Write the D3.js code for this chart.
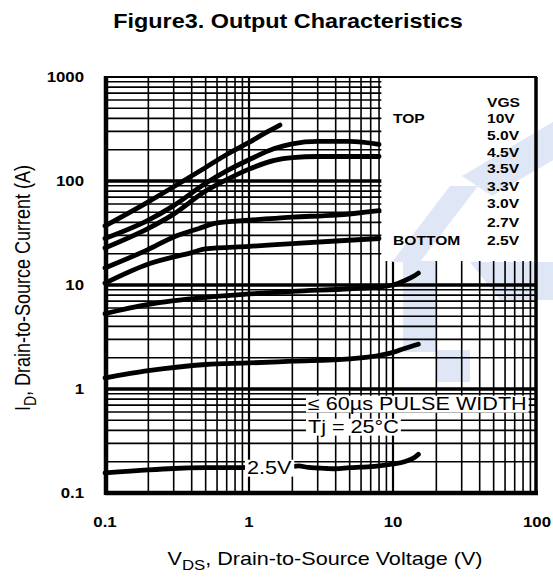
<!DOCTYPE html>
<html><head><meta charset="utf-8">
<script src="https://cdn.jsdelivr.net/npm/d3@7"></script>
<style>html,body{margin:0;padding:0;background:#fff;}svg{display:block;font-family:"Liberation Sans",Arial,sans-serif;}</style>
</head><body>
<svg id="c" width="553" height="578"></svg>
<script>
// ---- data ----
const vgsLabels = ["10V","5.0V","4.5V","3.5V","3.3V","3.0V","2.7V","2.5V"];
const xTicks = [0.1, 1, 10, 100];
const yTicks = [0.1, 1, 10, 100, 1000];
const xTickLabels = ["0.1","1","10","100"];
const yTickLabels = ["0.1","1","10","100","1000"];
const vds10  = [0.1,0.2,0.3,0.5,0.7,1,1.3,1.64];
const id10   = [37,63,88,135,180,235,290,345];
const vds50  = [0.1,0.2,0.3,0.5,0.7,1,1.5,2,3,5,8];
const id50   = [28,42,58,95,125,160,205,228,240,240,225];
const vds45  = [0.1,0.2,0.3,0.5,0.7,1,1.5,2,3,5,8];
const id45   = [22.7,35,48,80,103,130,158,168,172,172,172];
const vds35  = [0.1,0.2,0.3,0.45,0.6,1,2,4,8];
const id35   = [14.6,22,29,35,39.5,42,45,47,52];
const vds33  = [0.1,0.2,0.4,0.5,1,2,4,8];
const id33   = [10.4,15.9,20.5,22.2,23.5,25,26.5,28];
const vds30  = [0.1,0.2,0.5,1,2,5,8,10,12,14,15];
const id30   = [5.3,6.5,7.6,8.2,8.7,9.2,9.6,10,11,12.2,13];
const vds27  = [0.1,0.2,0.5,1,2,5,8,10,12,15];
const id27   = [1.28,1.5,1.72,1.78,1.85,1.95,2.1,2.25,2.45,2.7];
const vds25  = [0.1,0.2,0.3,0.5,1,1.9,2.2,2.6,3,3.5,4,5,6,7,8,10,12,14,15];
const id25   = [0.156,0.167,0.172,0.175,0.176,0.178,0.182,0.176,0.174,0.172,0.171,0.175,0.177,0.179,0.182,0.19,0.2,0.218,0.235];
const curveV = [vds10,vds50,vds45,vds35,vds33,vds30,vds27,vds25];
const curveI = [id10,id50,id45,id35,id33,id30,id27,id25];
const legendY = [123,140,157,173,191,208,227,245];

// ---- scales ----
const svg = d3.select("#c");
const x = d3.scaleLog().domain([0.1,100]).range([105,537]);
const y = d3.scaleLog().domain([0.1,1000]).range([493,77]);
const SX = 1.2;

// watermark (decorative logo)
const wmPolys = [
  [[462,176],[553,122],[553,160],[492,196]],
  [[392,262],[450,186],[478,186],[420,262]],
  [[403,240],[437,240],[437,352],[403,352]],
  [[437,350],[470,350],[470,382],[437,382]],
  [[470,262],[553,262],[553,300],[500,300]]
];
svg.append("g").attr("fill","#dfe6f6").selectAll("polygon").data(wmPolys).join("polygon").attr("points",d=>d.map(p=>p.join(",")).join(" "));

// grid
const g = svg.append("g");
const xMinor = [], yMinor = [];
for (let e=-1;e<2;e++) for (let k=1;k<10;k++) xMinor.push(k*Math.pow(10,e));
for (let e=-1;e<3;e++) for (let k=1;k<10;k++) yMinor.push(k*Math.pow(10,e));
const isDec = v => Math.abs(Math.log10(v)-Math.round(Math.log10(v)))<1e-9;
g.selectAll("line.vx").data(xMinor.filter(v=>v>0.1)).join("line")
  .attr("x1",d=>x(d)).attr("x2",d=>x(d)).attr("y1",y(1000)).attr("y2",y(0.1))
  .attr("stroke","#000").attr("stroke-width",d=>isDec(d)?2.2:1.6);
g.selectAll("line.hy").data(yMinor.filter(v=>v>0.1)).join("line")
  .attr("x1",x(0.1)).attr("x2",x(100)).attr("y1",d=>y(d)).attr("y2",d=>y(d))
  .attr("stroke","#000").attr("stroke-width",d=>isDec(d)?3.4:1.6);

// legend box (white)
svg.append("rect").attr("x",x(8.3)).attr("y",y(1000)+1).attr("width",x(100)-x(8.3)-2).attr("height",y(17)-y(1000)-1).attr("fill","#fff");
svg.append("g").attr("fill","#dfe6f6").selectAll("polygon").data(wmPolys.slice(0,2)).join("polygon").attr("points",d=>d.map(p=>p.join(",")).join(" "));

// frame
svg.append("line").attr("x1",x(0.1)).attr("x2",x(100)).attr("y1",y(1000)).attr("y2",y(1000)).attr("stroke","#000").attr("stroke-width",2.2);
svg.append("line").attr("x1",x(100)-1).attr("x2",x(100)-1).attr("y1",y(1000)).attr("y2",y(0.1)).attr("stroke","#000").attr("stroke-width",3.5);
svg.append("line").attr("x1",x(0.1)+1).attr("x2",x(0.1)+1).attr("y1",y(1000)-1).attr("y2",y(0.1)+2).attr("stroke","#000").attr("stroke-width",4.5);
svg.append("line").attr("x1",x(0.1)).attr("x2",x(100)+1).attr("y1",y(0.1)).attr("y2",y(0.1)).attr("stroke","#000").attr("stroke-width",4.5);

// text helper
function txt(parent, s, tx, ty, size, weight, anchor){
  return parent.append("text").attr("transform",`translate(${tx},${ty}) scale(${SX},1)`)
    .attr("font-size",size).attr("font-weight",weight||"normal").attr("text-anchor",anchor||"start").attr("fill","#000").text(s);
}
function boxed(s, tx, ty, size){
  const grp = svg.append("g");
  const r = grp.append("rect").attr("fill","#fff");
  const t = txt(grp, s, tx, ty, size, "normal", "start");
  const b = t.node().getBBox();
  r.attr("x",tx+b.x*SX-2).attr("y",ty+b.y+2).attr("width",b.width*SX+4).attr("height",b.height-3);
  return grp;
}

// curves
const line = d3.line().x(d=>x(d[0])).y(d=>y(d[1])).curve(d3.curveMonotoneX);
svg.append("g").selectAll("path").data(curveV.map((vs,i)=>vs.map((v,j)=>[v,curveI[i][j]]))).join("path")
  .attr("d",line).attr("fill","none").attr("stroke","#000").attr("stroke-width",4.8).attr("stroke-linecap","round").attr("stroke-linejoin","round");

// annotations
boxed("2.5V", 247, 474, 18);
boxed("\u2264 60\u00b5s PULSE WIDTH", 308, 410, 18);
boxed("Tj = 25\u00b0C", 308, 433, 18);

// legend texts
txt(svg,"VGS",487,107,13,"bold");
txt(svg,"TOP",393,123,13,"bold");
txt(svg,"BOTTOM",393,245,13,"bold");
svg.append("g").selectAll("text").data(vgsLabels).join("text")
  .attr("transform",(d,i)=>`translate(487,${legendY[i]}) scale(${SX},1)`)
  .attr("font-size",13).attr("font-weight","bold").text(d=>d);

// tick labels
svg.append("g").selectAll("text").data(yTicks).join("text")
  .attr("transform",d=>`translate(84,${y(d)+5}) scale(${SX},1)`)
  .attr("text-anchor","end").attr("font-size",14).attr("font-weight","bold").text((d,i)=>yTickLabels[i]);
svg.append("g").selectAll("text").data(xTicks).join("text")
  .attr("transform",d=>`translate(${x(d)},527) scale(${SX},1)`)
  .attr("text-anchor","middle").attr("font-size",14).attr("font-weight","bold").text((d,i)=>xTickLabels[i]);

// title
txt(svg,"Figure3. Output Characteristics",288,28,19.5,"bold","middle");

// x axis title
const xt = svg.append("text").attr("transform",`translate(325,565) scale(${SX},1)`).attr("text-anchor","middle").attr("font-size",18);
xt.append("tspan").text("V");
xt.append("tspan").attr("font-size",14).attr("dy",5).text("DS");
xt.append("tspan").attr("dy",-5).text(", Drain-to-Source Voltage (V)");

// y axis title
const yt = svg.append("text").attr("transform",`translate(30,288) rotate(-90) scale(1,${SX})`).attr("text-anchor","middle").attr("font-size",18);
yt.append("tspan").text("I");
yt.append("tspan").attr("font-size",14).attr("dy",5).text("D");
yt.append("tspan").attr("dy",-5).text(", Drain-to-Source Current (A)");
</script>
</body></html>
